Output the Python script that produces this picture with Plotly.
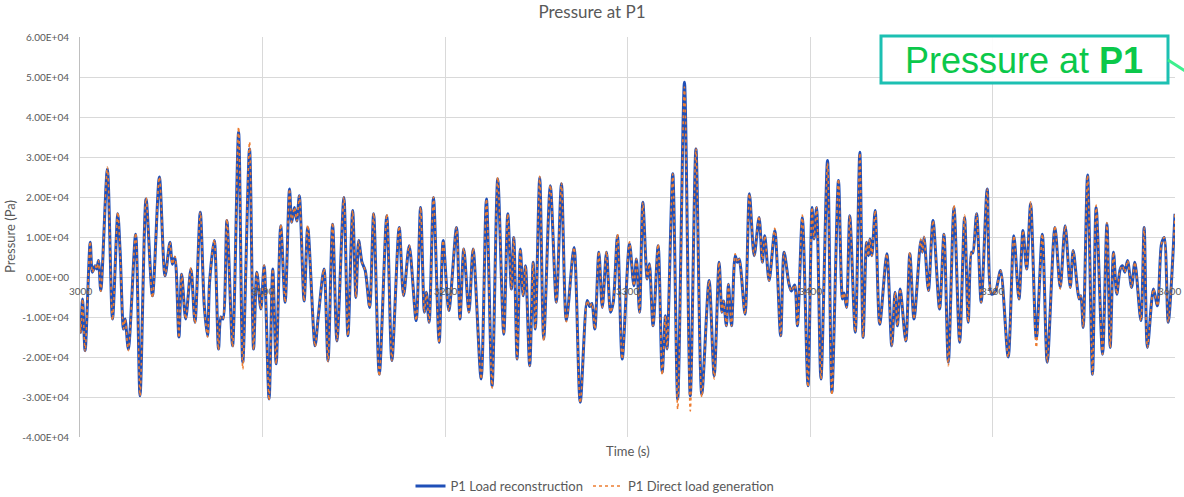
import plotly.graph_objects as go

# ---- data (time in s, pressure in Pa) ----
t_s = [
    3000.0, 3000.4, 3001.4, 3002.8, 3005.6, 3006.8, 3008.3, 3009.2, 3010.1, 3011.4,
    3015.0, 3017.8, 3020.7, 3022.0, 3023.8, 3024.7, 3026.5, 3030.5, 3032.9, 3036.2,
    3039.7, 3043.5, 3046.6, 3049.3, 3050.6, 3052.0, 3054.2, 3055.7, 3057.9, 3060.8,
    3063.0, 3065.9, 3068.1, 3069.9, 3071.0, 3073.6, 3075.9, 3077.2, 3078.3, 3080.5,
    3083.6, 3086.9, 3089.2, 3092.9, 3095.1, 3096.9, 3099.1, 3100.9, 3103.6, 3105.6,
    3107.5, 3110.0, 3112.4, 3114.8, 3116.0, 3117.5, 3118.8, 3120.2, 3122.8, 3124.8,
    3128.8, 3130.6, 3133.7, 3135.9, 3138.4, 3140.8, 3144.6, 3146.8, 3149.4, 3151.2,
    3152.7, 3154.5, 3156.3, 3158.7, 3160.9, 3164.0, 3168.1, 3170.9, 3174.9, 3177.3,
    3180.4, 3184.2, 3186.6, 3188.7, 3189.8, 3191.3, 3193.7, 3196.8, 3199.0, 3202.1,
    3206.3, 3208.2, 3210.3, 3213.1, 3215.4, 3219.8, 3222.7, 3225.8, 3228.9, 3232.2,
    3234.4, 3236.4, 3237.7, 3239.5, 3241.3, 3242.8, 3244.1, 3246.4, 3248.3, 3249.5,
    3251.9, 3254.1, 3257.7, 3261.0, 3263.8, 3266.5, 3270.7, 3274.1, 3277.9, 3279.3,
    3280.5, 3282.1, 3284.3, 3286.2, 3288.5, 3290.7, 3292.2, 3294.5, 3297.1, 3301.1,
    3303.5, 3304.9, 3306.6, 3308.4, 3310.8, 3312.0, 3314.0, 3316.8, 3319.0, 3320.8,
    3321.7, 3324.8, 3327.5, 3331.2, 3334.4, 3337.5, 3340.7, 3344.7, 3347.5, 3350.2,
    3351.7, 3352.6, 3354.2, 3355.3, 3357.0, 3359.0, 3360.2, 3361.2, 3364.4, 3366.8,
    3369.4, 3372.1, 3373.9, 3375.2, 3377.6, 3380.7, 3383.9, 3385.8, 3388.5, 3389.8,
    3391.6, 3393.1, 3395.8, 3398.9, 3401.1, 3402.2, 3403.6, 3406.0, 3409.6, 3412.0,
    3415.6, 3417.8, 3418.7, 3420.0, 3421.8, 3424.8, 3427.3, 3429.1, 3431.0, 3432.0,
    3432.8, 3433.9, 3435.7, 3438.2, 3442.1, 3444.8, 3446.6, 3447.9, 3449.4, 3452.5,
    3454.7, 3457.0, 3460.7, 3461.6, 3462.5, 3464.9, 3467.4, 3471.0, 3473.4, 3475.8,
    3478.9, 3482.0, 3484.7, 3486.7, 3488.5, 3489.2, 3491.3, 3493.8, 3497.1, 3499.5,
    3501.7, 3504.4, 3508.6, 3511.7, 3514.5, 3516.7, 3518.7, 3520.9, 3524.0, 3527.3,
    3530.0, 3534.2, 3537.1, 3539.8, 3542.6, 3544.2, 3547.5, 3548.4, 3549.7, 3552.1,
    3554.8, 3556.8, 3560.3, 3562.7, 3564.5, 3566.3, 3568.1, 3570.0, 3571.2, 3572.5,
    3574.0, 3576.2, 3578.0, 3581.3, 3583.1, 3584.9, 3588.2, 3590.4, 3592.6, 3594.1,
    3596.3, 3600.0,
]

p_recon = [
    -1.10e4, -1.38e4, -0.55e4, -1.84e4, 0.87e4, 0.12e4, 0.28e4, 0.20e4, 0.41e4, -0.34e4,
    2.70e4, -1.05e4, 1.58e4, 0.62e4, -1.30e4, -1.05e4, -1.80e4, 1.07e4, -2.97e4, 1.95e4,
    -0.47e4, 2.50e4, 0.03e4, 0.87e4, 0.32e4, 0.49e4, -1.50e4, 0.07e4, -1.05e4, 0.20e4,
    -1.13e4, 1.62e4, -0.72e4, -1.47e4, -0.13e4, 0.91e4, -1.80e4, -1.00e4, -1.05e4, 1.41e4,
    -1.72e4, 3.62e4, -2.13e4, 3.20e4, -1.80e4, 0.12e4, -0.80e4, 0.28e4, -3.05e4, 0.20e4,
    -2.17e4, 1.28e4, -0.63e4, 2.20e4, 1.37e4, 1.74e4, 1.40e4, 2.03e4, -0.60e4, 1.24e4,
    -1.72e4, -0.97e4, 0.20e4, -2.09e4, 1.32e4, -1.60e4, 1.99e4, -1.47e4, 1.66e4, -0.51e4,
    0.91e4, 0.37e4, 0.16e4, -0.76e4, 1.58e4, -2.43e4, 1.53e4, -2.09e4, 1.24e4, -0.47e4,
    0.78e4, -1.09e4, 1.74e4, -0.88e4, -0.38e4, -1.13e4, 1.99e4, -1.63e4, 0.91e4, -0.84e4,
    1.24e4, -1.05e4, 0.70e4, -0.88e4, 0.70e4, -2.55e4, 1.95e4, -2.72e4, 2.45e4, -1.43e4,
    1.58e4, -0.30e4, 0.99e4, -2.05e4, 0.70e4, -0.47e4, 0.28e4, -2.22e4, 0.37e4, -1.30e4,
    2.49e4, -1.55e4, 2.28e4, -0.63e4, 2.33e4, -1.09e4, 0.74e4, -3.13e4, -0.59e4, -0.74e4,
    -0.66e4, -1.30e4, 0.62e4, -0.76e4, 0.62e4, -0.88e4, -0.63e4, 1.03e4, -2.05e4, 0.83e4,
    -0.22e4, 0.45e4, -0.88e4, 1.87e4, -0.05e4, 0.33e4, -1.22e4, 0.78e4, -2.38e4, -0.97e4,
    -1.80e4, 2.58e4, -3.05e4, 4.87e4, -2.97e4, 3.20e4, -2.93e4, -0.09e4, -2.47e4, 0.37e4,
    -0.88e4, -0.60e4, -1.22e4, -0.18e4, -1.22e4, 0.53e4, 0.37e4, 0.45e4, -0.93e4, 2.08e4,
    0.53e4, 1.49e4, 0.37e4, 1.03e4, -0.09e4, 1.16e4, -1.47e4, 0.62e4, -0.18e4, -0.35e4,
    -0.20e4, -1.22e4, 1.49e4, -2.72e4, 1.74e4, 0.95e4, 1.74e4, -2.55e4, 2.91e4, -2.88e4,
    2.41e4, -0.55e4, -0.40e4, -0.76e4, 1.53e4, -1.38e4, 3.12e4, -1.51e4, 0.87e4, 0.53e4,
    0.95e4, 0.53e4, 1.66e4, -1.18e4, 0.58e4, -1.72e4, -0.38e4, -1.22e4, -0.30e4, -1.60e4,
    0.58e4, -1.05e4, 0.91e4, 0.62e4, 0.99e4, -0.34e4, 1.41e4, -0.80e4, 1.07e4, -2.13e4,
    1.74e4, -1.63e4, 1.49e4, -1.13e4, 0.62e4, 0.60e4, 1.58e4, -0.63e4, 2.20e4, -0.43e4,
    -0.35e4, 0.16e4, -2.00e4, 1.03e4, -0.55e4, 1.16e4, 0.20e4, 1.83e4, -1.55e4, 1.07e4,
    -2.13e4, 1.24e4, -0.26e4, 1.28e4, -0.26e4, 0.66e4, -0.55e4, -0.47e4, -1.26e4, 2.55e4,
    -2.43e4, 1.74e4, -1.93e4, 1.33e4, -1.76e4, 0.62e4, -0.43e4, 0.20e4, 0.28e4, 0.12e4,
    0.41e4, -0.26e4, 0.37e4, -1.09e4, 1.24e4, -1.76e4, -0.30e4, -0.72e4, 0.83e4, 0.99e4,
    -1.13e4, 1.58e4,
]

p_direct = [
    -1.10e4, -1.40e4, -0.55e4, -1.86e4, 0.89e4, 0.12e4, 0.28e4, 0.20e4, 0.41e4, -0.36e4,
    2.75e4, -1.08e4, 1.62e4, 0.62e4, -1.30e4, -1.05e4, -1.84e4, 1.10e4, -2.97e4, 1.98e4,
    -0.52e4, 2.50e4, 0.03e4, 0.87e4, 0.32e4, 0.52e4, -1.52e4, 0.07e4, -1.05e4, 0.24e4,
    -1.16e4, 1.62e4, -0.72e4, -1.50e4, -0.13e4, 0.93e4, -1.82e4, -1.00e4, -1.05e4, 1.45e4,
    -1.75e4, 3.75e4, -2.30e4, 3.38e4, -1.82e4, 0.14e4, -0.80e4, 0.30e4, -3.08e4, 0.20e4,
    -2.17e4, 1.32e4, -0.63e4, 2.20e4, 1.37e4, 1.74e4, 1.40e4, 2.03e4, -0.60e4, 1.30e4,
    -1.74e4, -0.97e4, 0.20e4, -2.12e4, 1.36e4, -1.60e4, 2.00e4, -1.47e4, 1.66e4, -0.51e4,
    0.91e4, 0.37e4, 0.16e4, -0.76e4, 1.60e4, -2.48e4, 1.58e4, -2.09e4, 1.27e4, -0.47e4,
    0.80e4, -1.09e4, 1.74e4, -0.88e4, -0.38e4, -1.13e4, 2.00e4, -1.65e4, 0.91e4, -0.84e4,
    1.24e4, -1.05e4, 0.72e4, -0.88e4, 0.72e4, -2.55e4, 1.95e4, -2.78e4, 2.50e4, -1.43e4,
    1.58e4, -0.30e4, 0.99e4, -2.05e4, 0.70e4, -0.47e4, 0.28e4, -2.22e4, 0.37e4, -1.30e4,
    2.52e4, -1.60e4, 2.30e4, -0.63e4, 2.35e4, -1.12e4, 0.74e4, -3.15e4, -0.59e4, -0.74e4,
    -0.66e4, -1.30e4, 0.64e4, -0.76e4, 0.64e4, -0.88e4, -0.63e4, 1.08e4, -2.05e4, 0.88e4,
    -0.22e4, 0.45e4, -0.88e4, 1.87e4, -0.05e4, 0.33e4, -1.22e4, 0.82e4, -2.45e4, -0.97e4,
    -1.80e4, 2.58e4, -3.30e4, 4.75e4, -3.35e4, 3.22e4, -3.00e4, -0.09e4, -2.55e4, 0.37e4,
    -0.88e4, -0.60e4, -1.22e4, -0.18e4, -1.22e4, 0.58e4, 0.37e4, 0.45e4, -0.93e4, 2.08e4,
    0.53e4, 1.52e4, 0.37e4, 1.03e4, -0.09e4, 1.22e4, -1.47e4, 0.62e4, -0.18e4, -0.35e4,
    -0.20e4, -1.22e4, 1.55e4, -2.75e4, 1.74e4, 0.95e4, 1.74e4, -2.55e4, 2.85e4, -2.95e4,
    2.45e4, -0.55e4, -0.40e4, -0.76e4, 1.53e4, -1.38e4, 3.10e4, -1.51e4, 0.87e4, 0.53e4,
    0.95e4, 0.53e4, 1.66e4, -1.18e4, 0.58e4, -1.72e4, -0.38e4, -1.22e4, -0.30e4, -1.62e4,
    0.62e4, -1.05e4, 0.95e4, 0.62e4, 1.02e4, -0.34e4, 1.41e4, -0.80e4, 1.07e4, -2.22e4,
    1.80e4, -1.63e4, 1.55e4, -1.13e4, 0.62e4, 0.60e4, 1.58e4, -0.63e4, 2.20e4, -0.43e4,
    -0.35e4, 0.16e4, -2.00e4, 1.03e4, -0.55e4, 1.16e4, 0.20e4, 1.88e4, -1.76e4, 1.07e4,
    -2.13e4, 1.28e4, -0.30e4, 1.28e4, -0.26e4, 0.66e4, -0.55e4, -0.47e4, -1.26e4, 2.55e4,
    -2.43e4, 1.80e4, -1.93e4, 1.36e4, -1.76e4, 0.62e4, -0.43e4, 0.20e4, 0.28e4, 0.12e4,
    0.41e4, -0.26e4, 0.37e4, -1.09e4, 1.24e4, -1.76e4, -0.30e4, -0.72e4, 0.83e4, 0.99e4,
    -1.13e4, 1.58e4,
]

x_ticks = [3000, 3100, 3200, 3300, 3400, 3500, 3600]
x_tick_labels = ["3000", "3100", "3200", "3300", "3400", "3500", "3600"]
y_ticks = [-40000, -30000, -20000, -10000, 0, 10000, 20000, 30000, 40000, 50000, 60000]
y_tick_labels = ["-4.00E+04", "-3.00E+04", "-2.00E+04", "-1.00E+04", "0.00E+00",
                 "1.00E+04", "2.00E+04", "3.00E+04", "4.00E+04", "5.00E+04", "6.00E+04"]

# ---- figure ----
W, H = 1184, 497
ML, MR, MT, MB = 80, 9, 37, 60
PW, PH = W - ML - MR, H - MT - MB
FONT = "Lato, Carlito, 'Open Sans', sans-serif"
GREY = "#595959"


def px(xp):
    return (xp - ML) / PW


def py(yp):
    return (H - MB - yp) / PH


fig = go.Figure()
fig.add_trace(go.Scatter(
    x=t_s, y=p_recon, mode="lines", name="P1 Load reconstruction",
    line=dict(color="#1F4FB8", width=3, shape="spline", smoothing=0.8),
))
fig.add_trace(go.Scatter(
    x=t_s, y=p_direct, mode="lines", name="P1 Direct load generation",
    line=dict(color="#ED7D31", width=1.6, dash="dot", shape="spline", smoothing=0.8),
))

annotations = []
for xv, lab in zip(x_ticks, x_tick_labels):
    last = xv == x_ticks[-1]
    annotations.append(dict(x=xv, y=0, xref="x", yref="y", text=lab, showarrow=False,
                            yanchor="middle", yshift=-14,
                            xanchor="right" if last else "center",
                            xshift=8 if last else 0,
                            font=dict(family=FONT, size=10, color=GREY)))
annotations.append(dict(x=0.5, y=py(451), xref="paper", yref="paper", text="Time (s)",
                        showarrow=False, yanchor="middle",
                        font=dict(family=FONT, size=13, color=GREY)))
annotations.append(dict(x=px(10), y=0.5, xref="paper", yref="paper", text="Pressure (Pa)",
                        showarrow=False, textangle=-90, xanchor="center", yanchor="middle",
                        font=dict(family=FONT, size=13, color=GREY)))
annotations.append(dict(x=px(1024), y=py(60), xref="paper", yref="paper",
                        text="Pressure at <b>P1</b>", showarrow=False,
                        xanchor="center", yanchor="middle",
                        font=dict(family="Liberation Sans, Arial, sans-serif", size=36,
                                  color="#0BC84A")))

shapes = [
    dict(type="rect", xref="paper", yref="paper", x0=px(881), x1=px(1168),
         y0=py(83), y1=py(36), line=dict(color="#1CC0B2", width=3),
         fillcolor="rgba(255,255,255,0.9)", layer="above"),
    dict(type="line", xref="paper", yref="paper", x0=px(1168), y0=py(60),
         x1=px(1190), y1=py(74), line=dict(color="#3DF08E", width=3), layer="above"),
]

fig.update_layout(
    width=W, height=H,
    margin=dict(l=ML, r=MR, t=MT, b=MB, autoexpand=False),
    paper_bgcolor="white", plot_bgcolor="white",
    title=dict(text="Pressure at P1", x=0.5, xref="container", xanchor="center",
               y=1 - 12 / H, yanchor="middle", automargin=False,
               font=dict(family=FONT, size=17, color=GREY)),
    xaxis=dict(range=[3000, 3600], tickvals=x_ticks, showticklabels=False,
               showgrid=True, gridcolor="#D9D9D9", gridwidth=1, zeroline=False,
               showline=False, fixedrange=True, automargin=False),
    yaxis=dict(range=[-40000, 60000], tickvals=y_ticks, ticktext=y_tick_labels,
               showgrid=True, gridcolor="#D9D9D9", gridwidth=1, zeroline=False,
               showline=True, linecolor="#BFBFBF", linewidth=1,
               ticks="", ticklabelstandoff=8, automargin=False,
               tickfont=dict(family=FONT, size=10, color=GREY), fixedrange=True),
    legend=dict(orientation="h", x=px(595), xanchor="center", y=py(486), yanchor="middle",
                font=dict(family=FONT, size=13, color=GREY), bgcolor="rgba(0,0,0,0)",
                itemwidth=30, tracegroupgap=0),
    showlegend=True,
    annotations=annotations,
    shapes=shapes,
)

fig.write_html(
    "out.html",
    config={"displayModeBar": False},
    post_script="document.body.style.margin='0';document.body.style.overflow='hidden';",
)
